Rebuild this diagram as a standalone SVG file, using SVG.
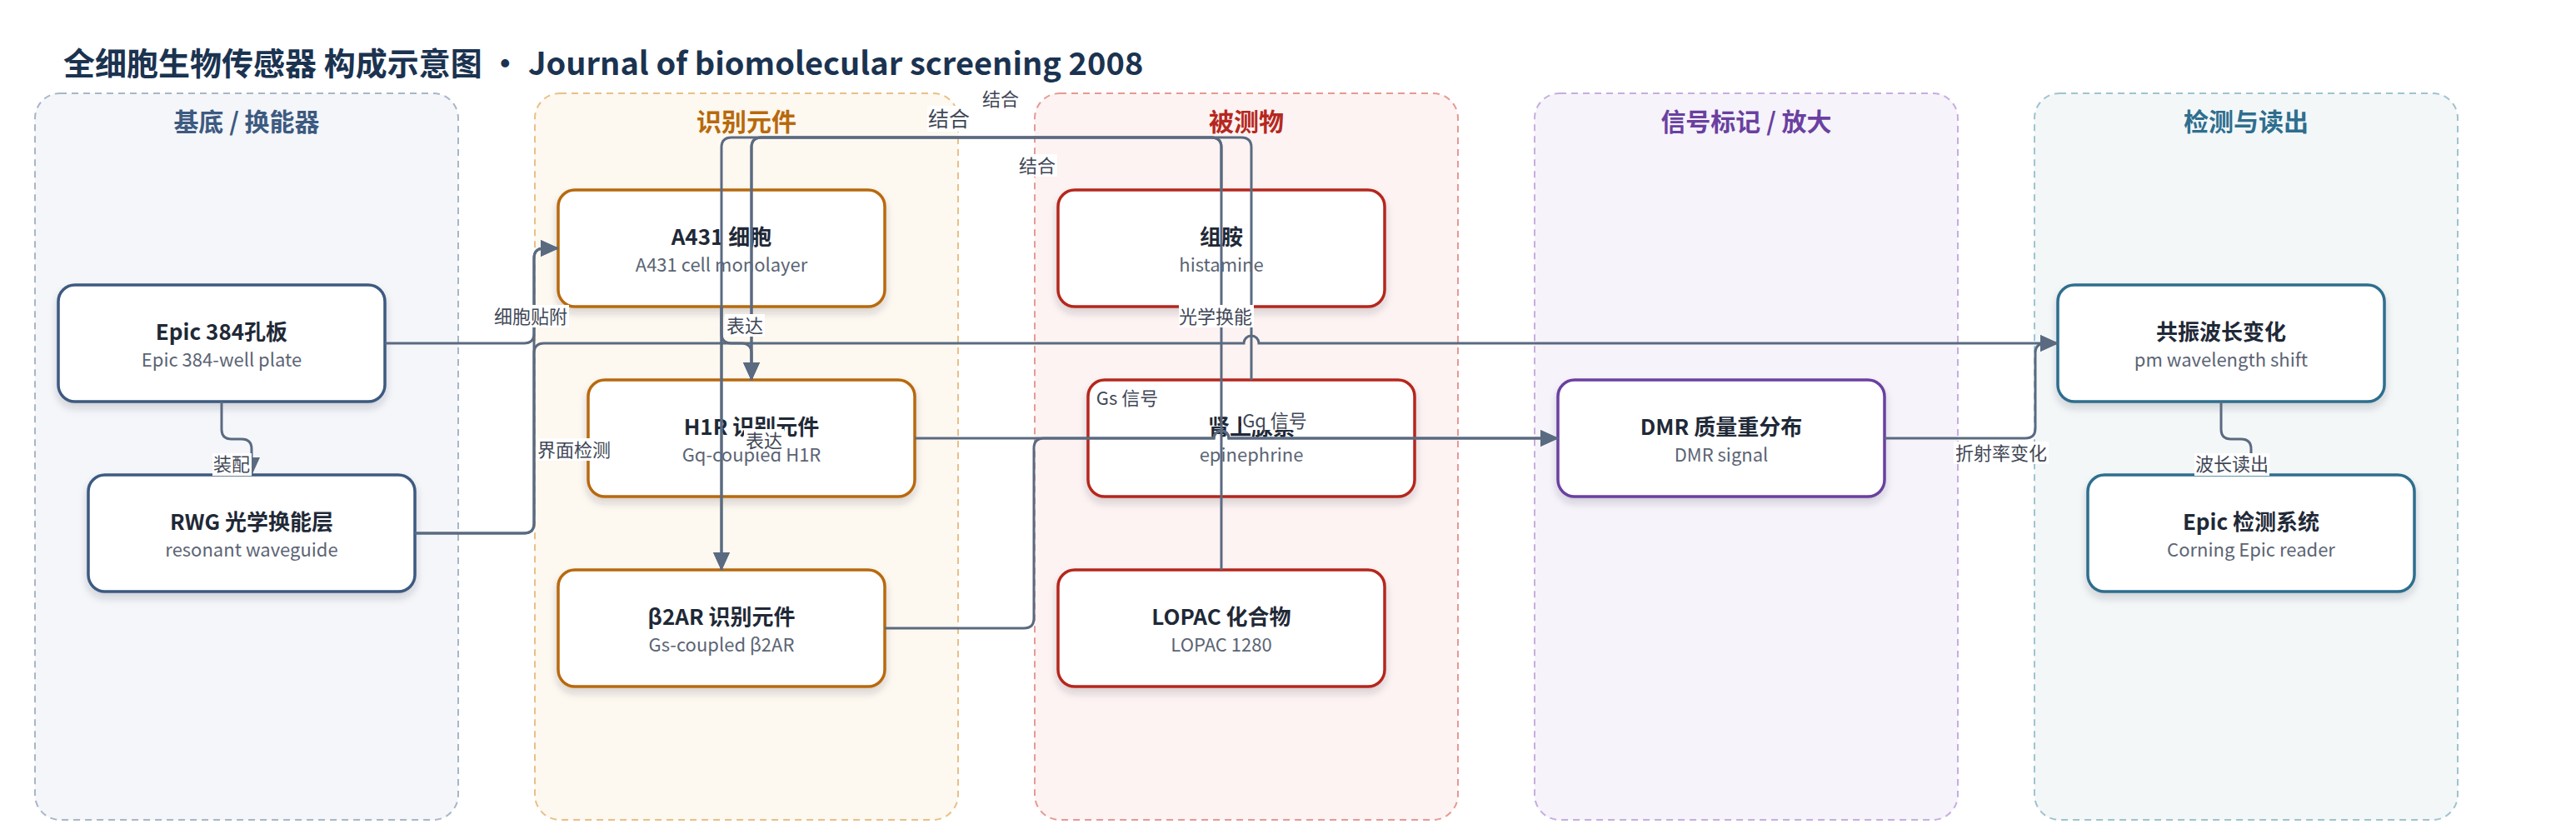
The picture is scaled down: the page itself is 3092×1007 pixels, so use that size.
<svg xmlns="http://www.w3.org/2000/svg" width="3092" height="1007" viewBox="0 0 3092 1007">
<style>
text{font-family:"Noto Sans CJK SC","Noto Sans",sans-serif}
.title{font-size:38px;font-weight:700;fill:#1b3350}
.lane{stroke-width:2;stroke-dasharray:8 6}
.lt{font-size:30px;font-weight:700;text-anchor:middle}
.node{fill:#fff;stroke-width:3.5;filter:url(#sh)}
.nt{font-size:26px;font-weight:700;fill:#1f2937;text-anchor:middle}
.ns{font-size:22px;fill:#5b6474;text-anchor:middle}
.c{fill:none;stroke:#5a6a80;stroke-width:3}
.a{marker-end:url(#arr)}
.lb{fill:#fff}
.lx{font-size:22px;fill:#3f4756;text-anchor:middle}
</style>
<defs>
<filter id="sh" x="-10%" y="-10%" width="120%" height="130%">
<feDropShadow dx="0" dy="6" stdDeviation="5" flood-color="#1e293b" flood-opacity="0.18"/>
</filter>
<marker id="arr" markerUnits="userSpaceOnUse" markerWidth="22" markerHeight="20" viewBox="0 0 22 20" refX="21" refY="10" orient="auto">
<path d="M0,0 L22,10 L0,20 z" fill="#5a6a80"/>
</marker>
</defs>
<rect width="3092" height="1007" fill="#fff"/>
<text class="title" x="76" y="90">全细胞生物传感器 构成示意图 · Journal of biomolecular screening 2008</text>

<g id="lanes">
<g id="lane-substrate"><rect class="lane" x="42" y="112" width="508" height="872" rx="30" fill="#f4f6fa" stroke="#a8b6c8"/><text class="lt" x="296" y="157" fill="#3d5a80">基底 / 换能器</text></g>
<g id="lane-recognition"><rect class="lane" x="642" y="112" width="508" height="872" rx="30" fill="#fdf8f0" stroke="#e8c088"/><text class="lt" x="896" y="157" fill="#b8690c">识别元件</text></g>
<g id="lane-analyte"><rect class="lane" x="1242" y="112" width="508" height="872" rx="30" fill="#fdf3f2" stroke="#e49a94"/><text class="lt" x="1496" y="157" fill="#b5281f">被测物</text></g>
<g id="lane-signal"><rect class="lane" x="1842" y="112" width="508" height="872" rx="30" fill="#f6f3fa" stroke="#c6aedf"/><text class="lt" x="2096" y="157" fill="#6a40a0">信号标记 / 放大</text></g>
<g id="lane-readout"><rect class="lane" x="2442" y="112" width="508" height="872" rx="30" fill="#f3f7f8" stroke="#9fc3cf"/><text class="lt" x="2696" y="157" fill="#2e6e8e">检测与读出</text></g>
</g>

<g id="nodes">
<g id="n-epic"><rect class="node" x="70" y="342" width="392" height="140" rx="20" stroke="#3d5a80"/><text class="nt" x="266" y="408">Epic 384孔板</text><text class="ns" x="266" y="440">Epic 384-well plate</text></g>
<g id="n-rwg"><rect class="node" x="106" y="570" width="392" height="140" rx="20" stroke="#3d5a80"/><text class="nt" x="302" y="636">RWG 光学换能层</text><text class="ns" x="302" y="668">resonant waveguide</text></g>
<g id="n-a431"><rect class="node" x="670" y="228" width="392" height="140" rx="20" stroke="#b8690c"/><text class="nt" x="866" y="294">A431 细胞</text><text class="ns" x="866" y="326">A431 cell monolayer</text></g>
<g id="n-h1r"><rect class="node" x="706" y="456" width="392" height="140" rx="20" stroke="#b8690c"/><text class="nt" x="902" y="522">H1R 识别元件</text><text class="ns" x="902" y="554">Gq-coupled H1R</text></g>
<g id="n-b2ar"><rect class="node" x="670" y="684" width="392" height="140" rx="20" stroke="#b8690c"/><text class="nt" x="866" y="750">β2AR 识别元件</text><text class="ns" x="866" y="782">Gs-coupled β2AR</text></g>
<g id="n-histamine"><rect class="node" x="1270" y="228" width="392" height="140" rx="20" stroke="#b5281f"/><text class="nt" x="1466" y="294">组胺</text><text class="ns" x="1466" y="326">histamine</text></g>
<g id="n-epinephrine"><rect class="node" x="1306" y="456" width="392" height="140" rx="20" stroke="#b5281f"/><text class="nt" x="1502" y="522">肾上腺素</text><text class="ns" x="1502" y="554">epinephrine</text></g>
<g id="n-lopac"><rect class="node" x="1270" y="684" width="392" height="140" rx="20" stroke="#b5281f"/><text class="nt" x="1466" y="750">LOPAC 化合物</text><text class="ns" x="1466" y="782">LOPAC 1280</text></g>
<g id="n-dmr"><rect class="node" x="1870" y="456" width="392" height="140" rx="20" stroke="#6a40a0"/><text class="nt" x="2066" y="522">DMR 质量重分布</text><text class="ns" x="2066" y="554">DMR signal</text></g>
<g id="n-shift"><rect class="node" x="2470" y="342" width="392" height="140" rx="20" stroke="#2e6e8e"/><text class="nt" x="2666" y="408">共振波长变化</text><text class="ns" x="2666" y="440">pm wavelength shift</text></g>
<g id="n-reader"><rect class="node" x="2506" y="570" width="392" height="140" rx="20" stroke="#2e6e8e"/><text class="nt" x="2702" y="636">Epic 检测系统</text><text class="ns" x="2702" y="668">Corning Epic reader</text></g>
</g>

<g id="connectors">
<path class="c a" d="M266,482 V515 Q266,527 278,527 H290 Q302,527 302,539 V570"/>
<path class="c a" d="M462,412 H629 Q641,412 641,400 V310 Q641,298 653,298 H670"/>
<path class="c a" d="M498,640 H629 Q641,640 641,628 V310 Q641,298 653,298 H670"/>
<path class="c a" d="M498,640 H629 Q641,640 641,628 V424 Q641,412 653,412 H1493 A9,9 0 0 1 1511,412 H2470"/>
<path class="c a" d="M866,368 V400 Q866,412 878,412 H890 Q902,412 902,424 V456"/>
<path class="c a" d="M866,368 V684"/>
<path class="c a" d="M1466,228 V177 Q1466,165 1454,165 H914 Q902,165 902,177 V456"/>
<path class="c a" d="M1502,456 V177 Q1502,165 1490,165 H878 Q866,165 866,177 V684"/>
<path class="c a" d="M1466,684 V177 Q1466,165 1454,165 H914 Q902,165 902,177 V456"/>
<path class="c a" d="M1098,526 H1457 A9,9 0 0 1 1475,526 H1870"/>
<path class="c a" d="M1062,754 H1229 Q1241,754 1241,742 V538 Q1241,526 1253,526 H1457 A9,9 0 0 1 1475,526 H1870"/>
<path class="c a" d="M2262,526 H2431 Q2443,526 2443,514 V424 Q2443,412 2455,412 H2470"/>
<path class="c a" d="M2666,482 V515 Q2666,527 2678,527 H2690 Q2702,527 2702,539 V570"/>
</g>

<g id="labels">
<rect class="lb" x="255" y="544" width="47" height="27"/><text class="lx" x="278" y="565">装配</text>
<rect class="lb" x="593" y="366" width="90" height="27"/><text class="lx" x="637" y="388">细胞贴附</text>
<rect class="lb" x="645" y="526" width="90" height="27"/><text class="lx" x="689" y="548">界面检测</text>
<rect class="lb" x="1415" y="366" width="90" height="27"/><text class="lx" x="1459" y="388">光学换能</text>
<rect class="lb" x="870" y="377" width="48" height="27"/><text class="lx" x="894" y="399">表达</text>
<rect class="lb" x="893" y="515" width="48" height="27"/><text class="lx" x="917" y="537">表达</text>
<rect class="lb" x="1113" y="127" width="53" height="31"/><text class="lx" x="1139" y="152" style="font-size:25px">结合</text>
<rect class="lb" x="1177" y="105" width="48" height="27"/><text class="lx" x="1201" y="127">结合</text>
<rect class="lb" x="1221" y="185" width="48" height="27"/><text class="lx" x="1245" y="207">结合</text>
<rect class="lb" x="1315" y="464" width="77" height="27"/><text class="lx" x="1353" y="486">Gs 信号</text>
<rect class="lb" x="1490" y="492" width="81" height="24"/><text class="lx" x="1530" y="513">Gq 信号</text>
<rect class="lb" x="2345" y="530" width="114" height="27"/><text class="lx" x="2402" y="552">折射率变化</text>
<rect class="lb" x="2634" y="544" width="90" height="27"/><text class="lx" x="2679" y="565">波长读出</text>
</g>
</svg>
